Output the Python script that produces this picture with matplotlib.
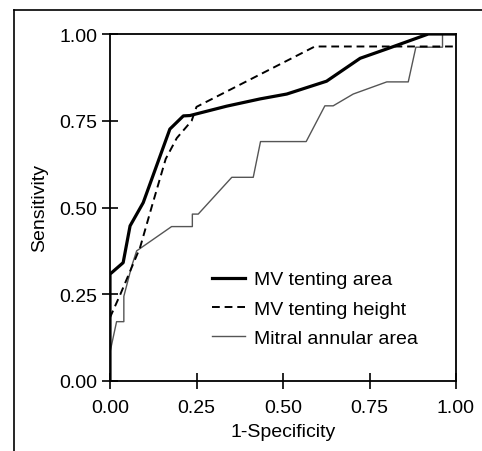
import matplotlib
matplotlib.use("Agg")
import matplotlib.pyplot as plt
from matplotlib.lines import Line2D

plt.rcParams['font.family'] = ['Liberation Sans', 'DejaVu Sans']

# ROC curves
area_fpr = [0.0, 0.0, 0.038, 0.058, 0.096, 0.173, 0.212, 0.231, 0.337, 0.434, 0.511, 0.626, 0.723, 0.80, 0.92, 1.0]
area_tpr = [0.0, 0.308, 0.341, 0.447, 0.514, 0.726, 0.764, 0.765, 0.792, 0.813, 0.827, 0.864, 0.930, 0.957, 1.0, 1.0]

height_fpr = [0.0, 0.0, 0.03, 0.063, 0.087, 0.12, 0.161, 0.193, 0.236, 0.25, 0.592, 1.0]
height_tpr = [0.0, 0.183, 0.25, 0.328, 0.385, 0.50, 0.64, 0.70, 0.75, 0.79, 0.964, 0.964]

annulus_fpr = [0.0, 0.0, 0.019, 0.040, 0.040, 0.063, 0.077, 0.178, 0.238, 0.238, 0.255, 0.352, 0.414, 0.435,
               0.567, 0.621, 0.645, 0.703, 0.80, 0.862, 0.884, 0.961, 0.961, 1.0]
annulus_tpr = [0.0, 0.083, 0.171, 0.171, 0.244, 0.332, 0.375, 0.445, 0.445, 0.481, 0.481, 0.587, 0.587, 0.690,
               0.690, 0.793, 0.793, 0.827, 0.862, 0.862, 0.962, 0.962, 1.0, 1.0]

ticks = [0.0, 0.25, 0.5, 0.75, 1.0]
tick_labels = ["0.00", "0.25", "0.50", "0.75", "1.00"]

fig = plt.figure(figsize=(4.82, 4.52), dpi=100)
ax = fig.add_axes([110/482, 1 - 382/452, 346/482, 347/452])

ax.plot(annulus_fpr, annulus_tpr, color="#555555", lw=1.0, label="Mitral annular area")
ax.plot(height_fpr, height_tpr, color="black", lw=1.4, ls=(0, (4, 2.5)), label="MV tenting height")
ax.plot(area_fpr, area_tpr, color="black", lw=2.3, label="MV tenting area")

ax.set_xlim(0, 1)
ax.set_ylim(0, 1)
ax.set_xticks(ticks)
ax.set_xticklabels(tick_labels)
ax.set_yticks(ticks)
ax.set_yticklabels(tick_labels)
ax.tick_params(direction="inout", length=12, width=1.2, labelsize=14)
ax.tick_params(axis="x", pad=7)
ax.tick_params(axis="y", pad=3)
for s in ax.spines.values():
    s.set_linewidth(1.3)
ax.set_xlabel("1-Specificity", fontsize=14, labelpad=5)
ax.set_ylabel("Sensitivity", fontsize=14, labelpad=8)

handles, labels = ax.get_legend_handles_labels()
order = [2, 1, 0]
ax.legend([handles[i] for i in order], [labels[i] for i in order], loc="lower left",
          bbox_to_anchor=(0.295, 0.098), borderaxespad=0, borderpad=0, frameon=False,
          fontsize=14, handlelength=1.7, labelspacing=0.6, handletextpad=0.46)

# partial outer frame
fig.add_artist(Line2D([14/482, 14/482], [0, 1 - 11/452], color="black", lw=1.2))
fig.add_artist(Line2D([14/482, 1], [1 - 11/452, 1 - 11/452], color="black", lw=1.2))

fig.savefig("out.png", dpi=100)
